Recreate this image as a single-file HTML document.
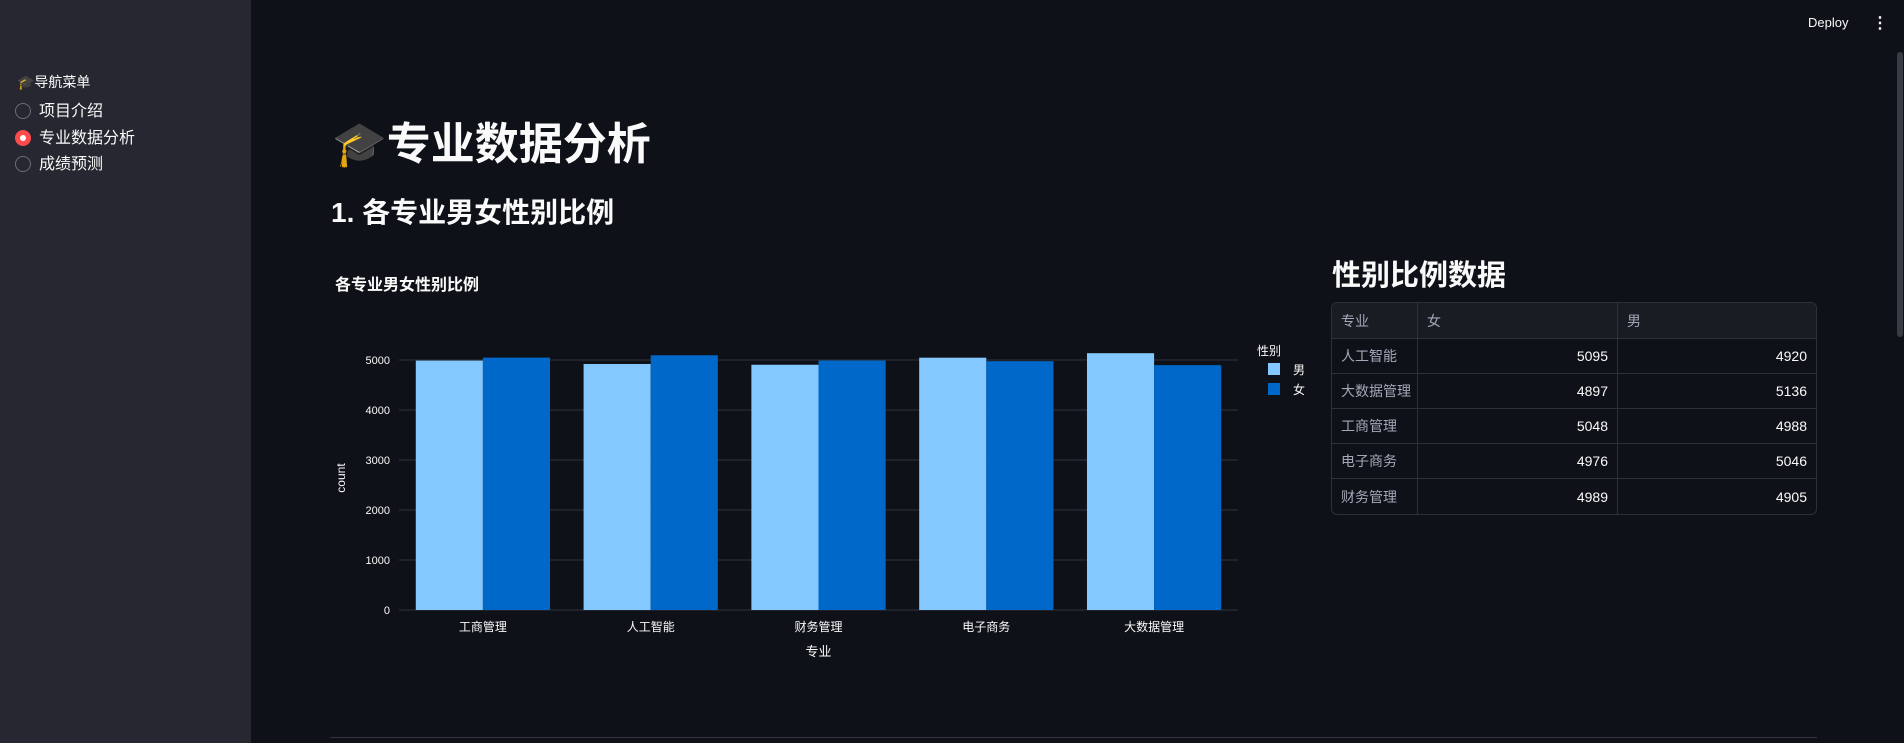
<!DOCTYPE html>
<html><head><meta charset="utf-8">
<style>
*{margin:0;padding:0;box-sizing:border-box}
body{width:1904px;height:743px;background:#0e1117;color:#fafafa;font-family:"Liberation Sans","Noto Sans CJK SC",sans-serif;overflow:hidden;position:relative}
#sidebar{position:absolute;left:0;top:0;width:251px;height:743px;background:#262730}
.abs{position:absolute;white-space:nowrap}
.radio{position:absolute;left:15px;width:16px;height:16px;border-radius:50%;border:1px solid #6b6d78}
.radio.on{background:#ff4b4b;border:none}
.radio.on::after{content:"";position:absolute;left:5px;top:5px;width:6px;height:6px;border-radius:50%;background:#fff}
.rl{position:absolute;left:39px;font-size:16px;color:#fafafa}
table{position:absolute;left:1331px;top:302px;width:486px;border-collapse:separate;border-spacing:0;border:1px solid #2d3039;border-radius:6px;overflow:hidden;font-size:14px;table-layout:fixed}
td,th{height:35px;border-right:1px solid #2d3039;border-bottom:1px solid #2d3039;padding:0 9px;font-weight:normal;white-space:nowrap}
th{background:#1a1c24;color:#a3a8b8;text-align:left;height:36px}
td.n{text-align:right;color:#fafafa}
td.c{color:#a3a8b8;padding-right:2px}
tr:last-child td{border-bottom:none}
td:last-child,th:last-child{border-right:none}
</style></head><body>
<div id="sidebar">
  <div class="abs" style="left:17px;top:72px;font-size:14px">🎓导航菜单</div>
  <div class="radio" style="top:103px"></div>
  <div class="rl" style="top:97px">项目介绍</div>
  <div class="radio on" style="top:130px"></div>
  <div class="rl" style="top:124px">专业数据分析</div>
  <div class="radio" style="top:156px"></div>
  <div class="rl" style="top:150px">成绩预测</div>
</div>
<div class="abs" style="left:1808px;top:15px;font-size:13px">Deploy</div>
<div class="abs" style="left:1872px;top:13px;font-size:16px;font-weight:bold">⋮</div>
<div class="abs" style="left:1897px;top:52px;width:6px;height:285px;background:#3a3c45;border-radius:3px"></div>
<div class="abs" style="left:332px;top:108px;font-size:44px;font-weight:bold">🎓专业数据分析</div>
<div class="abs" style="left:331px;top:191px;font-size:28px;font-weight:bold">1. 各专业男女性别比例</div>
<div class="abs" style="left:1332px;top:252px;font-size:29px;font-weight:bold">性别比例数据</div>
<table>
<colgroup><col style="width:86px"><col style="width:200px"><col></colgroup>
<tr><th>专业</th><th>女</th><th>男</th></tr>
<tr><td class="c">人工智能</td><td class="n">5095</td><td class="n">4920</td></tr>
<tr><td class="c">大数据管理</td><td class="n">4897</td><td class="n">5136</td></tr>
<tr><td class="c">工商管理</td><td class="n">5048</td><td class="n">4988</td></tr>
<tr><td class="c">电子商务</td><td class="n">4976</td><td class="n">5046</td></tr>
<tr><td class="c">财务管理</td><td class="n">4989</td><td class="n">4905</td></tr>
</table>
<div class="abs" style="left:330px;top:737px;width:1487px;height:1px;background:#31333f"></div>
<svg id="chart" class="abs" style="left:0;top:0" width="1904" height="743"></svg>
<script>
const categories=["工商管理","人工智能","财务管理","电子商务","大数据管理"];
const maleValues=[4988,4920,4905,5046,5136];
const femaleValues=[5048,5095,4989,4976,4897];
const yTicks=[0,1000,2000,3000,4000,5000];
const seriesNames=["男","女"];
const svg=document.getElementById('chart');
const NS='http://www.w3.org/2000/svg';
const L=399,R=1238,T=310,B=610,yMax=6000;
const y=v=>B-(v/1000)*50;
const cw=(R-L)/categories.length;
const x=i=>L+cw*i;
function mk(tag,attrs,text){const e=document.createElementNS(NS,tag);for(const k in attrs)e.setAttribute(k,attrs[k]);if(text!==undefined)e.textContent=text;svg.appendChild(e);return e;}
const font='"Liberation Sans","Noto Sans CJK SC",sans-serif';
let t=mk('text',{x:335,y:290,fill:'#fafafa','font-size':16,'font-weight':'bold','font-family':font},'各专业男女性别比例');


yTicks.forEach(v=>{
  const g=mk('line',{x1:L,x2:R,y1:y(v),y2:y(v),stroke:'#31333f','stroke-width':1});
  
  
  const l=mk('text',{x:L-9,y:y(v)+4,fill:'#fafafa','font-size':11,'text-anchor':'end','font-family':font},String(v));
  
  
});
const colors=['#83c9ff','#0068c9'];
const series=[maleValues,femaleValues];
const bw=cw*0.8/2;
categories.forEach((c,i)=>{
  series.forEach((vals,s)=>{
    const r=mk('rect',{x:x(i)+cw*0.1+bw*s,y:y(vals[i]),width:bw,height:B-y(vals[i]),fill:colors[s]});
    
    
  });
  const l=mk('text',{x:x(i)+cw/2,y:631,fill:'#fafafa','font-size':12,'text-anchor':'middle','font-family':font},c);
  
  
});
t=mk('text',{x:(L+R)/2,y:656,fill:'#fafafa','font-size':13,'text-anchor':'middle','font-family':font},'专业');


t=mk('text',{x:345,y:478,fill:'#fafafa','font-size':12,'text-anchor':'middle','font-family':font,transform:'rotate(-90 345 478)'},'count');


t=mk('text',{x:1257,y:355,fill:'#fafafa','font-size':12,'font-family':font},'性别');


seriesNames.forEach((n,s)=>{
  const r=mk('rect',{x:1268,y:363+s*20,width:12,height:12,fill:colors[s]});
  
  
  const l=mk('text',{x:1293,y:374+s*20,fill:'#fafafa','font-size':12,'font-family':font},n);
  
  
});
</script>
</body></html>
